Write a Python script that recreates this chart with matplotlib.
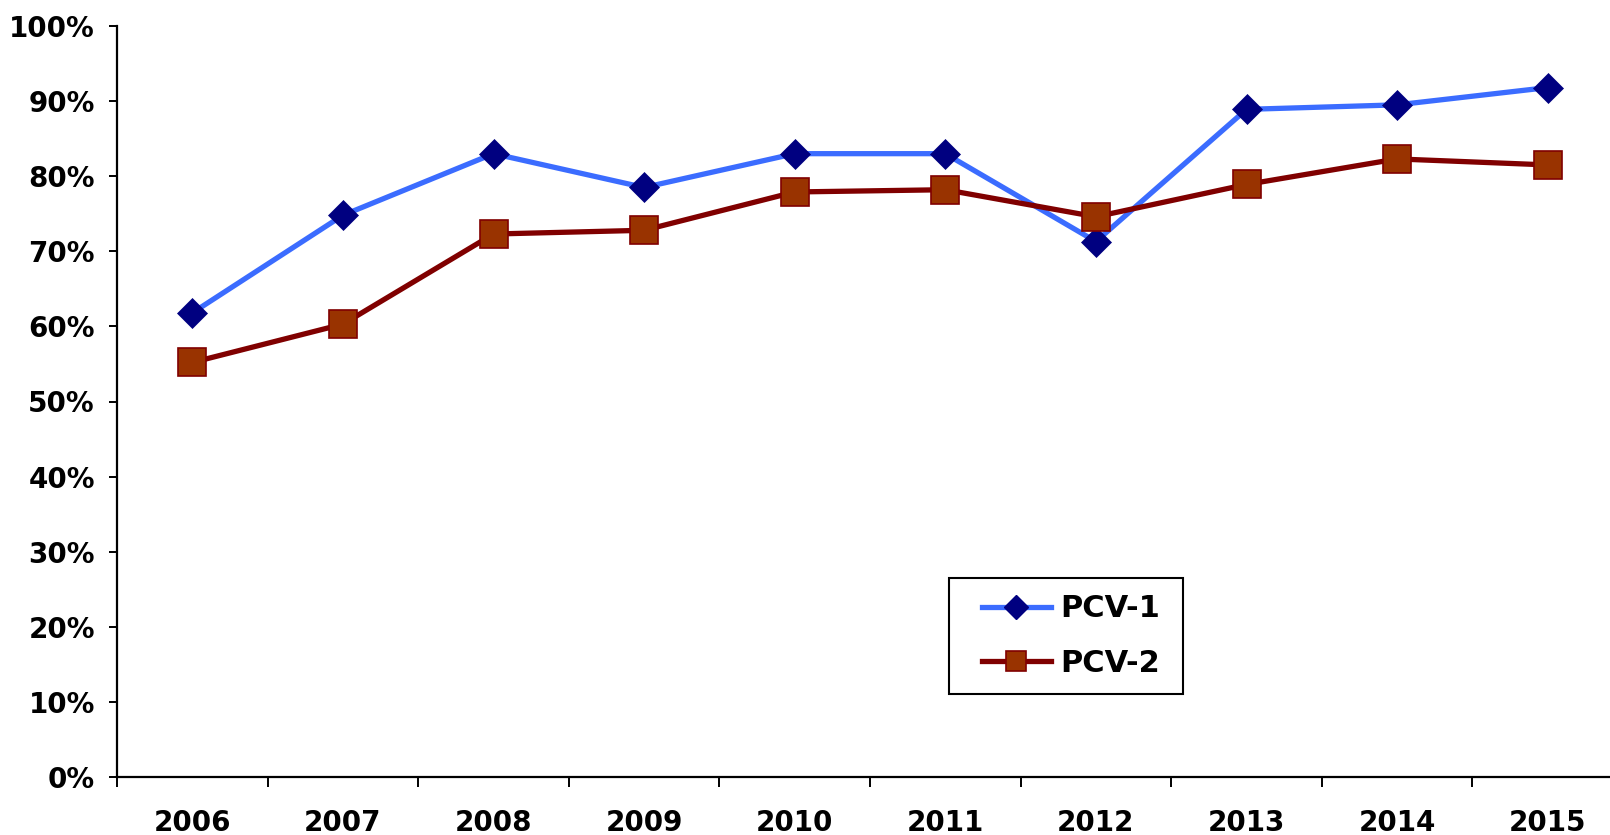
import matplotlib
matplotlib.use('Agg')
import matplotlib.pyplot as plt
from matplotlib.lines import Line2D
from matplotlib.patches import Rectangle
from matplotlib.ticker import FixedLocator, PercentFormatter

years = ['2006', '2007', '2008', '2009', '2010', '2011', '2012', '2013', '2014', '2015']
pcv1 = [61.8, 74.8, 83.0, 78.5, 83.0, 83.0, 71.3, 88.9, 89.5, 91.8]
pcv2 = [55.2, 60.3, 72.3, 72.8, 77.9, 78.2, 74.6, 78.9, 82.3, 81.5]
series_names = ['PCV-1', 'PCV-2']

blue_line = '#3b6cff'
navy = '#000080'
brown_line = '#800000'
brown_face = '#993300'

W, H = 1610, 835

plt.rcParams['font.family'] = ['DejaVu Sans']
plt.rcParams['font.weight'] = 'bold'

fig = plt.figure(figsize=(W / 100, H / 100), dpi=100)
# axes run slightly past the right edge of the figure
ax = fig.add_axes([117 / W, 58 / H, 1506 / W, 751 / H])

x = list(range(len(years)))
ax.plot(x, pcv1, color=blue_line, lw=3.8, marker='D', ms=15.5,
        mfc=navy, mec=navy, mew=0.5, zorder=3)
ax.plot(x, pcv2, color=brown_line, lw=3.8, marker='s', ms=19.5,
        mfc=brown_face, mec=brown_line, mew=1.2, zorder=4)

ax.set_xlim(-0.5, len(years) - 0.5)
ax.set_ylim(0, 100)

for side in ['top', 'right']:
    ax.spines[side].set_visible(False)
for side in ['left', 'bottom']:
    ax.spines[side].set_linewidth(1.6)

ax.set_yticks(range(0, 101, 10))
ax.yaxis.set_major_formatter(PercentFormatter(decimals=0))
ax.tick_params(axis='y', length=6, width=1.4, labelsize=20, pad=10)

# tick marks sit between the years, labels at the years
ax.xaxis.set_major_locator(FixedLocator([i - 0.5 for i in range(len(years) + 1)]))
ax.xaxis.set_minor_locator(FixedLocator(x))
ax.set_xticklabels([], minor=False)
ax.set_xticklabels(years, minor=True)
ax.tick_params(axis='x', which='major', length=7, width=1.4)
ax.tick_params(axis='x', which='minor', length=0, labelsize=20, pad=23)

# legend entries without frame, box drawn separately
handles = [
    Line2D([], [], color=blue_line, lw=3.8, marker='D', ms=12, mfc=navy, mec=navy),
    Line2D([], [], color=brown_line, lw=3.8, marker='s', ms=15, mfc=brown_face,
           mec=brown_line, mew=1.2),
]
ax.legend(handles, series_names, loc='center left',
          bbox_to_anchor=(982 / W, 1 - 636 / H), bbox_transform=fig.transFigure,
          borderaxespad=0, borderpad=0, frameon=False,
          prop={'size': 22, 'weight': 'bold'}, handlelength=2.25,
          handletextpad=0.3, labelspacing=0.82)
fig.patches.append(Rectangle((949 / W, 1 - 694 / H), 234 / W, 116 / H,
                             transform=fig.transFigure, fill=False,
                             edgecolor='black', linewidth=1.5, zorder=5))

fig.savefig('out.png', dpi=100)
